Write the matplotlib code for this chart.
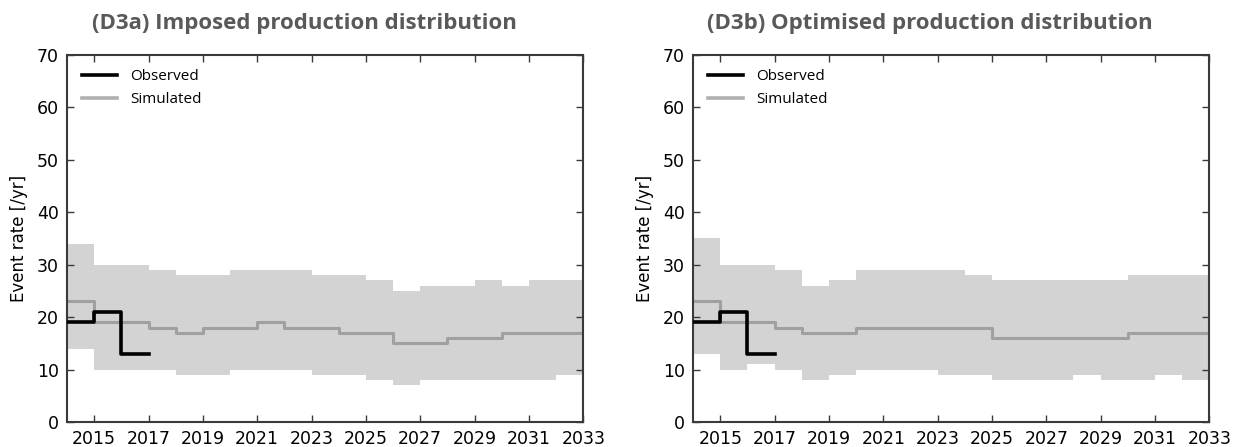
import numpy as np
import matplotlib
matplotlib.use("Agg")
import matplotlib.pyplot as plt
from matplotlib.lines import Line2D

# ---- data ----
years = list(range(2014, 2033))          # start year of each yearly step
end_year = 2033

obs_years = [2014, 2015, 2016]
obs_values = [19, 21, 13]
obs_end = 2017

a_upper = [34, 30, 30, 29, 28, 28, 29, 29, 29, 28, 28, 27, 25, 26, 26, 27, 26, 27, 27]
a_lower = [14, 10, 10, 10, 9, 9, 10, 10, 10, 9, 9, 8, 7, 8, 8, 8, 8, 8, 9]
a_median = [23, 19, 19, 18, 17, 18, 18, 19, 18, 18, 17, 17, 15, 15, 16, 16, 17, 17, 17]

b_upper = [35, 30, 30, 29, 26, 27, 29, 29, 29, 29, 28, 27, 27, 27, 27, 27, 28, 28, 28]
b_lower = [13, 10, 11, 10, 8, 9, 10, 10, 10, 9, 9, 8, 8, 8, 9, 8, 8, 9, 8]
b_median = [23, 19, 19, 18, 17, 17, 18, 18, 18, 18, 18, 16, 16, 16, 16, 16, 17, 17, 17]

titles = ["(D3a) Imposed production distribution",
          "(D3b) Optimised production distribution"]
ylabel = "Event rate [/yr]"
xticks = list(range(2015, 2034, 2))
yticks = list(range(0, 71, 10))

BAND = "#d3d3d3"
MED = "#a0a0a0"
SPINE = "#3a3a3a"


def steps(xs, vals, xend):
    x = np.array(list(xs) + [xend], dtype=float)
    y = np.array(list(vals) + [vals[-1]], dtype=float)
    return x, y


fig = plt.figure(figsize=(12.41, 4.47), dpi=100)
axes_pos = [[0.054, 0.056, 0.416, 0.821], [0.5585, 0.056, 0.416, 0.821]]
title_x = [304 / 1241, 930 / 1241]
panels = [(a_upper, a_lower, a_median), (b_upper, b_lower, b_median)]

for i, (up, lo, med) in enumerate(panels):
    ax = fig.add_axes(axes_pos[i])
    x, yu = steps(years, up, end_year)
    _, yl = steps(years, lo, end_year)
    _, ym = steps(years, med, end_year)
    ax.fill_between(x, yl, yu, step="post", color=BAND, linewidth=0, zorder=1)
    ax.step(x, ym, where="post", color=MED, lw=2.2, zorder=2)
    xo, yo = steps(obs_years, obs_values, obs_end)
    ax.step(xo, yo, where="post", color="black", lw=2.6, zorder=3)

    ax.set_xlim(2014, 2033)
    ax.set_ylim(0, 70)
    ax.set_xticks(xticks)
    ax.set_yticks(yticks)
    ax.tick_params(direction="in", length=5, width=1, color=SPINE,
                   top=True, right=True, labelsize=12.5, pad=6)
    for s in ax.spines.values():
        s.set_color(SPINE)
        s.set_linewidth(1.5)
    ax.set_ylabel(ylabel, fontsize=12, labelpad=6)

    handles = [Line2D([], [], color="black", lw=2.6),
               Line2D([], [], color="#b0b0b0", lw=2.6)]
    ax.legend(handles, ["Observed", "Simulated"], loc="upper left",
              frameon=False, handlelength=2.3,
              borderaxespad=0.55, labelspacing=0.5, handletextpad=0.9,
              prop={"family": "Open Sans", "size": 11})

    fig.text(title_x[i], 418.5 / 447, titles[i], ha="center", va="baseline",
             fontsize=16, fontweight="bold", color="#595959",
             family="Open Sans")

fig.savefig("out.png", dpi=100)
